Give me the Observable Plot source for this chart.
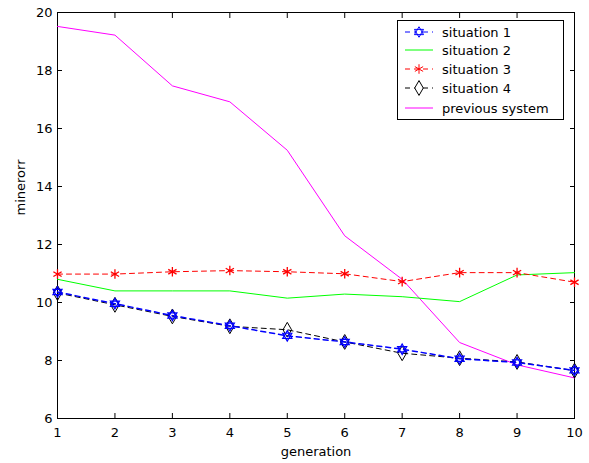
<!DOCTYPE html>
<html><head><meta charset="utf-8">
<script src="https://cdn.jsdelivr.net/npm/d3@7"></script>
<script src="https://cdn.jsdelivr.net/npm/@observablehq/plot@0.6"></script>
<style>
body{margin:0;background:#fff;}
#wrap{position:relative;width:589px;height:463px;font-family:"DejaVu Sans",sans-serif;}
#legend{position:absolute;left:397px;top:20px;}
</style></head><body><div id="wrap"></div>
<script>
const generation = [1,2,3,4,5,6,7,8,9,10];
const situation1 = [10.36, 9.96, 9.55, 9.20, 8.85, 8.64, 8.39, 8.06, 7.93, 7.66];
const situation2 = [10.80, 10.40, 10.40, 10.40, 10.15, 10.29, 10.20, 10.03, 10.95, 11.03];
const situation3 = [10.98, 10.98, 11.06, 11.10, 11.06, 10.99, 10.72, 11.03, 11.03, 10.70];
const situation4 = [10.33, 9.92, 9.52, 9.18, 9.06, 8.64, 8.25, 8.08, 7.95, 7.65];
const previousSystem = [19.52, 19.22, 17.47, 16.92, 15.25, 12.30, 10.80, 8.62, 7.85, 7.40];
const seriesNames = ["situation 1", "situation 2", "situation 3", "situation 4", "previous system"];
const xTicks = [1,2,3,4,5,6,7,8,9,10];
const yTicks = [6,8,10,12,14,16,18,20];

const hexagram = {
  draw(ctx, size) {
    const r = Math.sqrt(size / Math.PI) * 1.5;
    for (const off of [-Math.PI / 2, Math.PI / 2]) {
      for (let i = 0; i < 3; i++) {
        const a = off + i * 2 * Math.PI / 3;
        const x = r * Math.cos(a), y = r * Math.sin(a);
        if (i === 0) ctx.moveTo(x, y); else ctx.lineTo(x, y);
      }
      ctx.closePath();
    }
  }
};

const mk = (vals) => generation.map((g, i) => ({g, v: vals[i]}));
const d1 = mk(situation1), d2 = mk(situation2), d3s = mk(situation3), d4 = mk(situation4), d5 = mk(previousSystem);

const font = "DejaVu Sans, sans-serif";
const chart = Plot.plot({
  width: 589, height: 463,
  marginLeft: 57, marginRight: 15, marginTop: 12, marginBottom: 45,
  style: {fontFamily: font, fontSize: "13px", color: "#000", background: "#fff"},
  x: {domain: [1, 10]},
  y: {domain: [6, 20]},
  marks: [
    Plot.frame({stroke: "#000"}),
    Plot.axisX({ticks: xTicks, tickSize: -5, tickPadding: 14, label: null, fontSize: 13}),
    Plot.axisX({ticks: xTicks, anchor: "top", tickSize: -5, tickFormat: () => "", label: null}),
    Plot.axisY({ticks: yTicks, tickSize: -5, tickPadding: 10, label: null, fontSize: 13}),
    Plot.axisY({ticks: yTicks, anchor: "right", tickSize: -5, tickFormat: () => "", label: null}),
    Plot.line(d5, {x: "g", y: "v", stroke: "#ff00ff", strokeWidth: 1}),
    Plot.line(d2, {x: "g", y: "v", stroke: "#00ff00", strokeWidth: 1}),
    Plot.line(d3s, {x: "g", y: "v", stroke: "#ff0000", strokeWidth: 1, strokeDasharray: "5,4"}),
    Plot.dot(d3s, {x: "g", y: "v", stroke: "#ff0000", symbol: "asterisk", r: 4.5, strokeWidth: 1.3}),
    Plot.line(d4, {x: "g", y: "v", stroke: "#000", strokeWidth: 1, strokeDasharray: "5,4"}),
    Plot.dot(d4, {x: "g", y: "v", stroke: "#000", fill: "none", symbol: "diamond", r: 4.5, strokeWidth: 1}),
    Plot.line(d1, {x: "g", y: "v", stroke: "#0000ff", strokeWidth: 1.5, strokeDasharray: "5,4"}),
    Plot.dot(d1, {x: "g", y: "v", stroke: "#0000ff", fill: "none", symbol: hexagram, r: 3.5, strokeWidth: 1.2}),
    Plot.text(["generation"], {frameAnchor: "bottom", dy: 37, fontSize: 13}),
    Plot.text(["minerorr"], {frameAnchor: "left", dx: -37, rotate: -90, fontSize: 13})
  ]
});
const wrap = document.getElementById("wrap");
wrap.appendChild(chart);

// legend
const lw = 167, lh = 100;
const leg = d3.select(wrap).append("svg").attr("id", "legend").attr("width", lw).attr("height", lh)
  .style("font-family", font).style("font-size", "13px");
leg.append("rect").attr("x", 0.5).attr("y", 0.5).attr("width", lw - 1).attr("height", lh - 1).attr("fill", "#fff").attr("stroke", "#000");
const styles = [
  {stroke: "#0000ff", dash: "5,4", sym: hexagram, size: Math.PI * 3.5 * 3.5},
  {stroke: "#00ff00", dash: null, sym: null},
  {stroke: "#ff0000", dash: "5,4", sym: d3.symbolAsterisk, size: Math.PI * 4.5 * 4.5},
  {stroke: "#000000", dash: "5,4", sym: d3.symbolDiamond, size: Math.PI * 4.5 * 4.5},
  {stroke: "#ff00ff", dash: null, sym: null}
];
const rowY = [12, 30, 49, 68, 88];
seriesNames.forEach((name, i) => {
  const s = styles[i], y = rowY[i];
  leg.append("line").attr("x1", 8).attr("x2", 36).attr("y1", y).attr("y2", y)
    .attr("stroke", s.stroke).attr("stroke-dasharray", s.dash);
  if (s.sym) leg.append("path").attr("d", d3.symbol(s.sym, s.size)()).attr("transform", `translate(22,${y})`)
    .attr("fill", "#fff").attr("stroke", s.stroke);
  leg.append("text").attr("x", 45).attr("y", y).attr("dy", "0.35em").text(name);
});
</script></body></html>
